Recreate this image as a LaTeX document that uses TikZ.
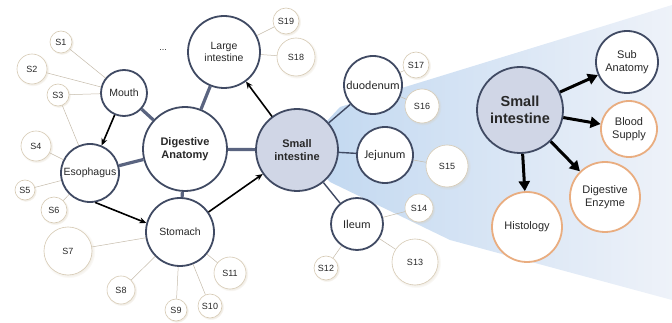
\documentclass[tikz,border=0pt]{standalone}
\usepackage{fontspec}
\setmainfont{Liberation Sans}
\newfontfamily\calib{Carlito}
\usetikzlibrary{arrows.meta,shadows}
\definecolor{navy}{RGB}{64,74,99}
\definecolor{hubfill}{RGB}{208,214,230}
\definecolor{orng}{RGB}{233,173,128}
\definecolor{sand}{RGB}{214,202,180}
\definecolor{trunkc}{RGB}{90,100,128}
\definecolor{fanleft}{RGB}{192,215,240}
\definecolor{fanright}{RGB}{238,242,249}
\definecolor{txt}{RGB}{40,40,40}

\begin{document}
\begin{tikzpicture}[x=1pt,y=-1pt,
    organ/.style={circle,draw=navy,line width=1.8pt,fill=white,inner sep=0pt,
      text=txt,align=center,font=\fontsize{10.5}{12}\selectfont},
    gut/.style={organ,font=\calib\fontsize{12}{13}\selectfont},
    core/.style={organ,font=\bfseries\fontsize{11}{13}\selectfont},
    hub/.style={core,fill=hubfill},
    topic/.style={organ,draw=orng,font=\fontsize{11}{13}\selectfont},
    sub/.style={circle,draw=sand,line width=0.6pt,fill=white,inner sep=0pt,
      text=txt,font=\fontsize{9}{10}\selectfont,
      circular drop shadow={shadow xshift=0.8pt,shadow yshift=-0.8pt,opacity=0.35,fill=sand}},
    trunk/.style={trunkc,line width=3.2pt},
    branch/.style={navy,line width=1.4pt},
    twig/.style={sand!80!gray,line width=0.5pt},
    flow/.style={-{Stealth[length=7pt,width=6pt]},line width=1.6pt},
    bigflow/.style={-{Triangle[length=10pt,width=11pt]},line width=3pt}]
  \useasboundingbox (0,0) rectangle (672,323);

  % zoom fan
  \shade[left color=fanleft,right color=fanright]
    (300,150) -- (340,107) -- (672,5) -- (672,300) -- (450,240) -- (330,182) -- cycle;

  % digestive tract
  \node[core,minimum size=84pt] (anat) at (185,149) {Digestive\\Anatomy};
  \node[organ,minimum size=46pt] (mouth) at (124,93) {Mouth};
  \node[organ,minimum size=58pt] (esoph) at (90,173) {Esophagus};
  \node[organ,minimum size=68pt] (stom) at (180,232) {Stomach};
  \node[organ,minimum size=72pt] (large) at (224,52) {Large\\intestine};
  \node[hub,minimum size=82pt] (small) at (297,150) {Small\\intestine};
  \node[gut,minimum size=58pt] (duod) at (373,85) {duodenum};
  \node[gut,minimum size=56pt] (jeju) at (385,155) {Jejunum};
  \node[gut,minimum size=52pt] (ileum) at (357,224) {Ileum};
  \node[text=txt,font=\fontsize{9}{10}\selectfont] (dots) at (163,50) {...};

  % sub topics
  \node[sub,minimum size=22pt] (s1) at (61,42) {S1};
  \node[sub,minimum size=30pt] (s2) at (32,69) {S2};
  \node[sub,minimum size=22pt] (s3) at (58,95) {S3};
  \node[sub,minimum size=30pt] (s4) at (36,146) {S4};
  \node[sub,minimum size=20pt] (s5) at (25,190) {S5};
  \node[sub,minimum size=26pt] (s6) at (54,210) {S6};
  \node[sub,minimum size=48pt] (s7) at (68,251) {S7};
  \node[sub,minimum size=28pt] (s8) at (121,290) {S8};
  \node[sub,minimum size=22pt] (s9) at (176,310) {S9};
  \node[sub,minimum size=24pt] (s10) at (210,306) {S10};
  \node[sub,minimum size=32pt] (s11) at (230,273) {S11};
  \node[sub,minimum size=24pt] (s12) at (326,268) {S12};
  \node[sub,minimum size=46pt] (s13) at (415,262) {S13};
  \node[sub,minimum size=28pt] (s14) at (419,208) {S14};
  \node[sub,minimum size=42pt] (s15) at (447,166) {S15};
  \node[sub,minimum size=34pt] (s16) at (422,106) {S16};
  \node[sub,minimum size=26pt] (s17) at (416,65) {S17};
  \node[sub,minimum size=38pt] (s18) at (296,57) {S18};
  \node[sub,minimum size=26pt] (s19) at (286,21) {S19};

  % zoomed small intestine
  \node[hub,minimum size=86pt,font=\bfseries\fontsize{14.5}{17}\selectfont] (zoom) at (520,110) {Small\\intestine};
  \node[organ,minimum size=62pt,font=\fontsize{11}{13}\selectfont] (subanat) at (627,62) {Sub\\Anatomy};
  \node[topic,minimum size=56pt] (blood) at (629,129) {Blood\\Supply};
  \node[topic,minimum size=70pt] (enzyme) at (605,197) {Digestive\\Enzyme};
  \node[topic,minimum size=70pt] (histo) at (527,227) {Histology};

  \foreach \a in {mouth,esoph,stom,large,small}
    \draw[trunk] (anat) -- (\a);
  \foreach \a in {duod,jeju,ileum}
    \draw[branch] (small) -- (\a);

  \draw[flow] (mouth) -- (esoph);
  \draw[flow] (esoph.-80) -- (stom.165);
  \draw[flow] (stom) -- (small);
  \draw[flow] (small) -- (large);

  \foreach \s/\t in {s1/mouth,s2/mouth,s3/mouth,s3/esoph,s4/esoph,s5/esoph,s6/esoph,
      s7/stom,s8/stom,s9/stom,s10/stom,s11/stom,s18/large,s19/large,
      s16/duod,s17/duod,s15/jeju,s12/ileum,s13/ileum,s14/ileum}
    \draw[twig] (\s) -- (\t);

  \foreach \t in {subanat,blood,enzyme,histo}
    \draw[bigflow] (zoom) -- (\t);
\end{tikzpicture}
\end{document}
